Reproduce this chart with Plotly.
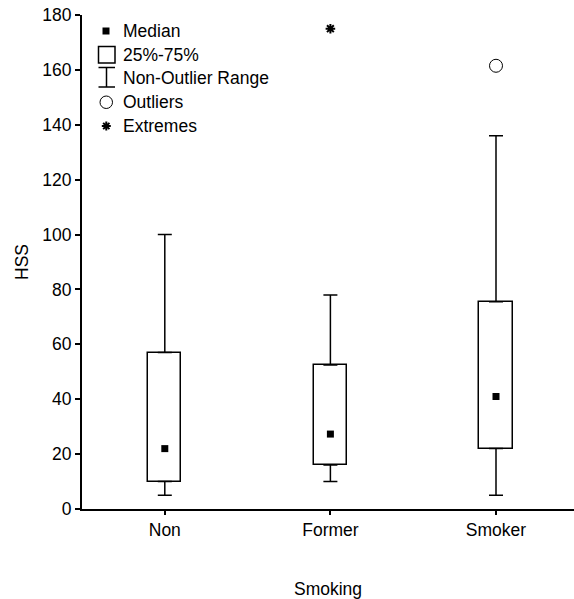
import plotly.graph_objects as go

categories = ["Non", "Former", "Smoker"]
q1 = [10, 16, 22]
q3 = [57, 52.5, 75.5]
median = [22, 27.3, 41]
whisker_low = [5, 10, 5]
whisker_high = [100, 78, 136]
outlier_cat = ["Smoker"]
outlier_val = [161.5]
extreme_cat = ["Former"]
extreme_val = [175]

legend_labels = ["Median", "25%-75%", "Non-Outlier Range", "Outliers", "Extremes"]

FONT = "Liberation Sans, Arial, sans-serif"
BLACK = "black"

fig = go.Figure()

# boxes (25%-75%)
fig.add_trace(go.Bar(
    x=categories, y=[b - a for a, b in zip(q1, q3)], base=q1, width=0.2,
    marker=dict(color="white", line=dict(color=BLACK, width=1.5)),
    showlegend=False, hoverinfo="skip"))

# upper whiskers
fig.add_trace(go.Scatter(
    x=categories, y=q3, mode="markers", marker=dict(opacity=0, size=1),
    error_y=dict(type="data", symmetric=False,
                 array=[h - q for h, q in zip(whisker_high, q3)],
                 arrayminus=[0] * len(q3), width=7, thickness=1.5, color=BLACK),
    showlegend=False, hoverinfo="skip"))

# lower whiskers
fig.add_trace(go.Scatter(
    x=categories, y=q1, mode="markers", marker=dict(opacity=0, size=1),
    error_y=dict(type="data", symmetric=False,
                 array=[0] * len(q1),
                 arrayminus=[q - l for q, l in zip(q1, whisker_low)],
                 width=7, thickness=1.5, color=BLACK),
    showlegend=False, hoverinfo="skip"))

# medians
fig.add_trace(go.Scatter(
    x=categories, y=median, mode="markers",
    marker=dict(symbol="square", size=7, color=BLACK),
    showlegend=False))

# outliers
fig.add_trace(go.Scatter(
    x=outlier_cat, y=outlier_val, mode="markers",
    marker=dict(symbol="circle-open", size=13, color=BLACK, line=dict(width=1)),
    showlegend=False))

# extremes
fig.add_trace(go.Scatter(
    x=extreme_cat, y=extreme_val, mode="markers",
    marker=dict(symbol="asterisk-open", size=8, color=BLACK, line=dict(width=2)),
    showlegend=False))

# ---- layout geometry (pixels) ----
W, H = 574, 599
ML, MR, MT, MB = 82, 0, 15, 90
PW, PH = W - ML - MR, H - MT - MB
xrange = [-0.5, 2.471]


def X(px):
    return (px - ML) / PW


def Y(py):
    return (H - MB - py) / PH


shapes = []
# legend: median
shapes.append(dict(type="rect", xref="paper", yref="paper", x0=X(102.5), x1=X(109.5),
                   y0=Y(34.5), y1=Y(27.5), fillcolor=BLACK, line=dict(width=0)))
# legend: box
shapes.append(dict(type="rect", xref="paper", yref="paper", x0=X(98.5), x1=X(115),
                   y0=Y(63), y1=Y(46.5), line=dict(color=BLACK, width=1.5)))
# legend: whisker
for (x0, y0, x1, y1) in [(98.5, 67.5, 115, 67.5), (98.5, 87, 115, 87), (106.5, 67.5, 106.5, 87)]:
    shapes.append(dict(type="line", xref="paper", yref="paper", x0=X(x0), x1=X(x1),
                       y0=Y(y0), y1=Y(y1), line=dict(color=BLACK, width=1.5)))
# legend: circle
shapes.append(dict(type="circle", xref="paper", yref="paper", x0=X(100), x1=X(112.5),
                   y0=Y(108.5), y1=Y(96), line=dict(color=BLACK, width=1)))
# legend: asterisk
cx, cy, r = 106.3, 126, 4.5
p = (f"M{X(cx)},{Y(cy - r)} L{X(cx)},{Y(cy + r)} "
     f"M{X(cx - r)},{Y(cy)} L{X(cx + r)},{Y(cy)} "
     f"M{X(cx - r * 0.7)},{Y(cy - r * 0.7)} L{X(cx + r * 0.7)},{Y(cy + r * 0.7)} "
     f"M{X(cx - r * 0.7)},{Y(cy + r * 0.7)} L{X(cx + r * 0.7)},{Y(cy - r * 0.7)}")
shapes.append(dict(type="path", xref="paper", yref="paper", path=p,
                   line=dict(color=BLACK, width=2)))

annotations = []
for lab, cyy in zip(legend_labels, [30.5, 55, 78, 101.5, 125.5]):
    annotations.append(dict(text=lab, xref="paper", yref="paper", x=X(121), y=Y(cyy),
                            xanchor="left", yanchor="middle", showarrow=False,
                            font=dict(family=FONT, size=17.5, color=BLACK)))

fig.update_layout(
    width=W, height=H,
    margin=dict(l=ML, r=MR, t=MT, b=MB, pad=0),
    paper_bgcolor="white", plot_bgcolor="white",
    font=dict(family=FONT, size=17.5, color=BLACK),
    showlegend=False,
    bargap=0,
    shapes=shapes,
    annotations=annotations,
    xaxis=dict(type="category", categoryorder="array", categoryarray=categories,
               range=xrange, showline=True, linecolor=BLACK, linewidth=2,
               ticks="outside", ticklen=4, tickwidth=1.5, tickcolor=BLACK,
               showgrid=False, zeroline=False,
               tickfont=dict(family=FONT, size=17.5, color=BLACK),
               title=dict(text="Smoking", standoff=46,
                          font=dict(family=FONT, size=17.5, color=BLACK))),
    xaxis2=dict(overlaying="x", side="top", anchor="y", type="linear", range=xrange,
                tickvals=[0, 1, 2], ticks="inside", ticklen=4, tickwidth=1.5,
                tickcolor=BLACK, showticklabels=False, showline=True,
                linecolor=BLACK, linewidth=2, showgrid=False, zeroline=False),
    yaxis=dict(range=[0, 180], dtick=20, tick0=0, showline=True, linecolor=BLACK,
               linewidth=2, ticks="outside", ticklen=5, tickwidth=1.5, tickcolor=BLACK,
               showgrid=False, zeroline=False,
               tickfont=dict(family=FONT, size=17.5, color=BLACK),
               title=dict(text="HSS", standoff=9,
                          font=dict(family=FONT, size=17.5, color=BLACK))),
)

fig.write_html("out.html")
